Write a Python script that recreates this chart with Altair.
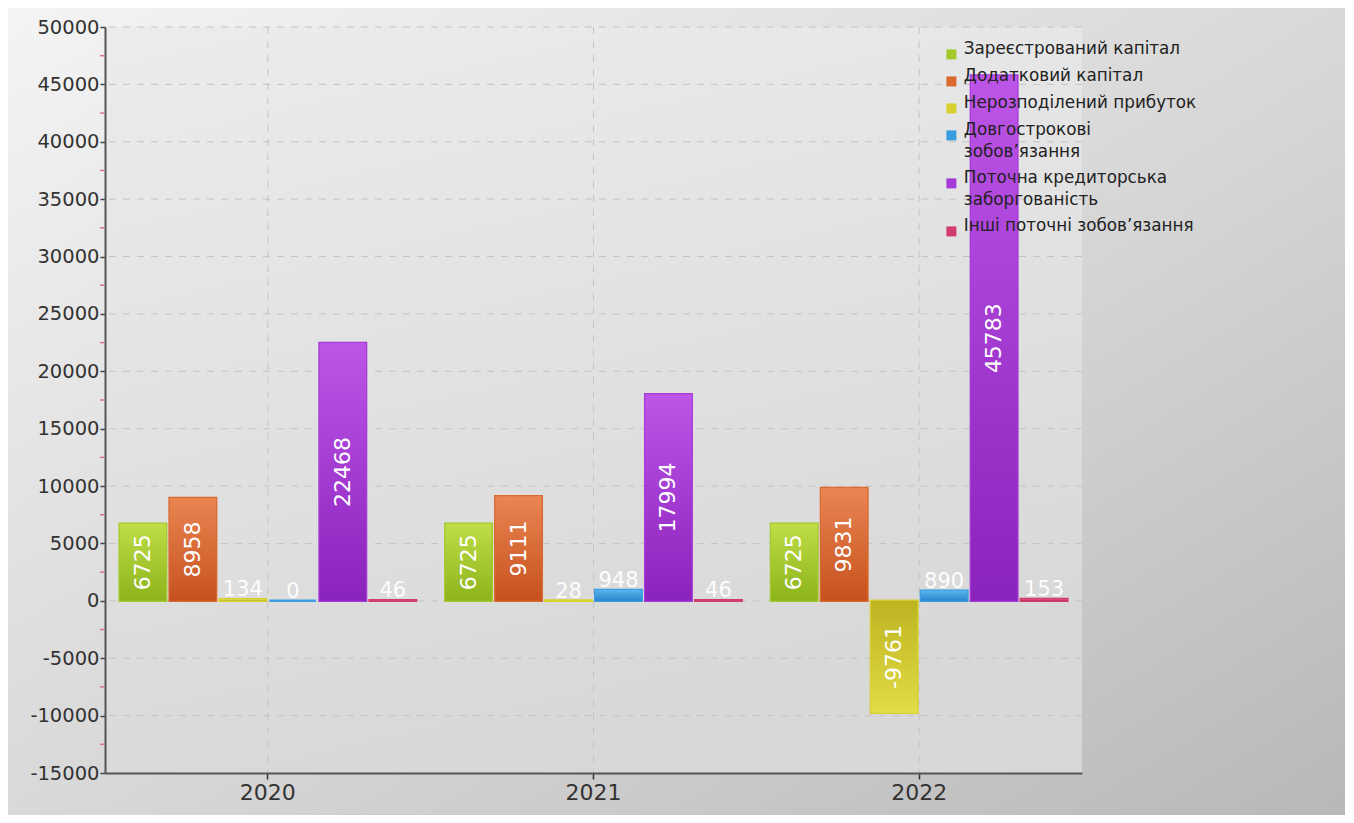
import altair as alt
import pandas as pd

# ---- data ----
years = ["2020", "2021", "2022"]
series = [
    "Зареєстрований капітал",
    "Додатковий капітал",
    "Нерозподілений прибуток",
    "Довгострокові\nзобов’язання",
    "Поточна кредиторська\nзаборгованість",
    "Інші поточні зобов’язання",
]
registered_capital = [6725, 6725, 6725]
additional_capital = [8958, 9111, 9831]
retained_earnings = [134, 28, -9761]
long_term_liabilities = [0, 948, 890]
current_payables = [22468, 17994, 45783]
other_current = [46, 46, 153]

colors = ["#a4c92c", "#da6930", "#d8d02e", "#3a9de0", "#a63ad8", "#d23c6c"]
tops = ["#bedd46", "#ea8552", "#e2dc46", "#5ab4ee", "#bd55e8", "#e25482"]
bottoms = ["#8db41c", "#c6521e", "#bcb420", "#2a86cc", "#8a22bc", "#bc2c5c"]

y_ticks = [-15000, -10000, -5000, 0, 5000, 10000, 15000, 20000, 25000,
           30000, 35000, 40000, 45000, 50000]
grid_y = [-10000, -5000, 0, 5000, 10000, 15000, 20000, 25000, 30000,
          35000, 40000, 45000, 50000]
minor_y = [-12500, -7500, -2500, 2500, 7500, 12500, 17500, 22500, 27500,
           32500, 37500, 42500, 47500]

all_values = [registered_capital, additional_capital, retained_earnings,
              long_term_liabilities, current_payables, other_current]

rows = []
for i, (s, vals) in enumerate(zip(series, all_values)):
    for y, v in zip(years, vals):
        rows.append({"year": y, "series": s, "idx": i, "value": v})
df = pd.DataFrame(rows)

FONT = "DejaVu Sans"
W, H = 977, 746
PAD = {"left": 97, "top": 19, "right": 263, "bottom": 42}

y_scale = alt.Scale(domain=[-15000, 50000], nice=False, zero=False)
x_scale = alt.Scale(domain=years, paddingInner=0.09, paddingOuter=0.045)
off_scale = alt.Scale(domain=series, paddingInner=0.07)

y_axis = alt.Axis(values=y_ticks, title=None, grid=False, zindex=1,
                  labelExpr="datum.value < 0 ? '-' + format(-datum.value, 'd') : format(datum.value, 'd')",
                  labelFont=FONT, labelFontSize=19.5, labelColor="#333333",
                  labelPadding=1, tickSize=5, tickColor="#444444", tickWidth=1.5,
                  domainColor="#555555", domainWidth=2)
x_axis = alt.Axis(title=None, grid=False, zindex=1, labelAngle=0,
                  labelFont=FONT, labelFontSize=22, labelColor="#333333",
                  labelPadding=3, tickSize=6, tickColor="#333333", tickWidth=1.5,
                  domainColor="#555555", domainWidth=2)


def X():
    return alt.X("year:N", scale=x_scale, axis=x_axis, title=None)


def Y(field):
    return alt.Y(field, scale=y_scale, axis=y_axis, title=None)


def XO():
    return alt.XOffset("series:N", scale=off_scale)


one = pd.DataFrame({"a": [0]})

outer_grad = alt.LinearGradient(
    gradient="linear", x1=0, y1=0, x2=1, y2=1,
    stops=[alt.GradientStop(color="#f4f4f4", offset=0),
           alt.GradientStop(color="#d6d6d6", offset=0.55),
           alt.GradientStop(color="#b8b8b8", offset=1)])
plot_grad = alt.LinearGradient(
    gradient="linear", x1=0, y1=0, x2=0.3, y2=1,
    stops=[alt.GradientStop(color="#ececec", offset=0),
           alt.GradientStop(color="#d8d8d8", offset=1)])

bg_outer = alt.Chart(one).mark_rect(fill=outer_grad).encode(
    x=alt.value(-PAD["left"]), x2=alt.value(W + PAD["right"]),
    y=alt.value(-PAD["top"]), y2=alt.value(H + PAD["bottom"]))
bg_plot = alt.Chart(one).mark_rect(fill=plot_grad).encode(
    x=alt.value(0), x2=alt.value("width"), y=alt.value(0), y2=alt.value("height"))

hgrid = alt.Chart(pd.DataFrame({"v": grid_y})).mark_rule(
    color="#c4c4c4", strokeDash=[7, 7], strokeWidth=1).encode(y=Y("v:Q"))
vgrid = alt.Chart(pd.DataFrame({"year": years})).mark_rule(
    color="#c4c4c4", strokeDash=[7, 7], strokeWidth=1).encode(x=X())

color_scale = alt.Scale(domain=series, range=colors)
base = alt.Chart(df).mark_bar(strokeWidth=2.5).encode(
    x=X(), xOffset=XO(), y=Y("value:Q"),
    color=alt.Color("series:N", scale=color_scale, legend=alt.Legend(
        orient="none", legendX=838, legendY=19, title=None,
        symbolType="square", symbolSize=100, symbolStrokeWidth=0,
        labelFont=FONT, labelFontSize=16.8, labelColor="#222222",
        labelExpr="split(datum.label, '\\n')", labelLimit=400,
        rowPadding=8, zindex=1, labelBaseline="alphabetic")),
    stroke=alt.Color("series:N", scale=color_scale, legend=None),
)

overlays = []
for i, s in enumerate(series):
    grad_pos = alt.LinearGradient(
        gradient="linear", x1=0, y1=0, x2=0, y2=1,
        stops=[alt.GradientStop(color=tops[i], offset=0),
               alt.GradientStop(color=bottoms[i], offset=1)])
    grad_neg = alt.LinearGradient(
        gradient="linear", x1=0, y1=0, x2=0, y2=1,
        stops=[alt.GradientStop(color=bottoms[i], offset=0),
               alt.GradientStop(color=tops[i], offset=1)])
    overlays.append(
        alt.Chart(df).transform_filter(f"datum.idx == {i} && datum.value >= 0")
        .mark_bar(fill=grad_pos).encode(x=X(), xOffset=XO(), y=Y("value:Q")))
    overlays.append(
        alt.Chart(df).transform_filter(f"datum.idx == {i} && datum.value < 0")
        .mark_bar(fill=grad_neg).encode(x=X(), xOffset=XO(), y=Y("value:Q")))

vtext = alt.Chart(df).transform_filter(
    "abs(datum.value) >= 3000").transform_calculate(
    mid="datum.value / 2", lbl="'' + datum.value").mark_text(
    angle=270, color="white", font=FONT, fontSize=22,
    align="center", baseline="middle").encode(
    x=X(), xOffset=XO(), y=Y("mid:Q"), text="lbl:N")

htext = alt.Chart(df).transform_filter(
    "abs(datum.value) < 3000").transform_calculate(
    lbl="'' + datum.value").mark_text(
    color="white", font=FONT, fontSize=21, opacity=0.95,
    align="center", baseline="bottom", dy=1).encode(
    x=X(), xOffset=XO(), y=Y("value:Q"), text="lbl:N")

minor = alt.Chart(pd.DataFrame({"v": minor_y})).mark_rule(
    color="#e07090", strokeWidth=1.5).encode(
    x=alt.value(-5), x2=alt.value(-1), y=Y("v:Q"))

chart = alt.layer(
    bg_outer, bg_plot, hgrid, vgrid, base, *overlays, vtext, htext, minor
).properties(
    width=W, height=H,
    autosize=alt.AutoSizeParams(type="none"),
    padding=PAD,
    background="#dcdcdc",
).configure(style={"guide-label": {"lineHeight": 22}}).configure_view(stroke=None)

chart.save("out.html", embed_options={"renderer": "svg", "actions": False})
